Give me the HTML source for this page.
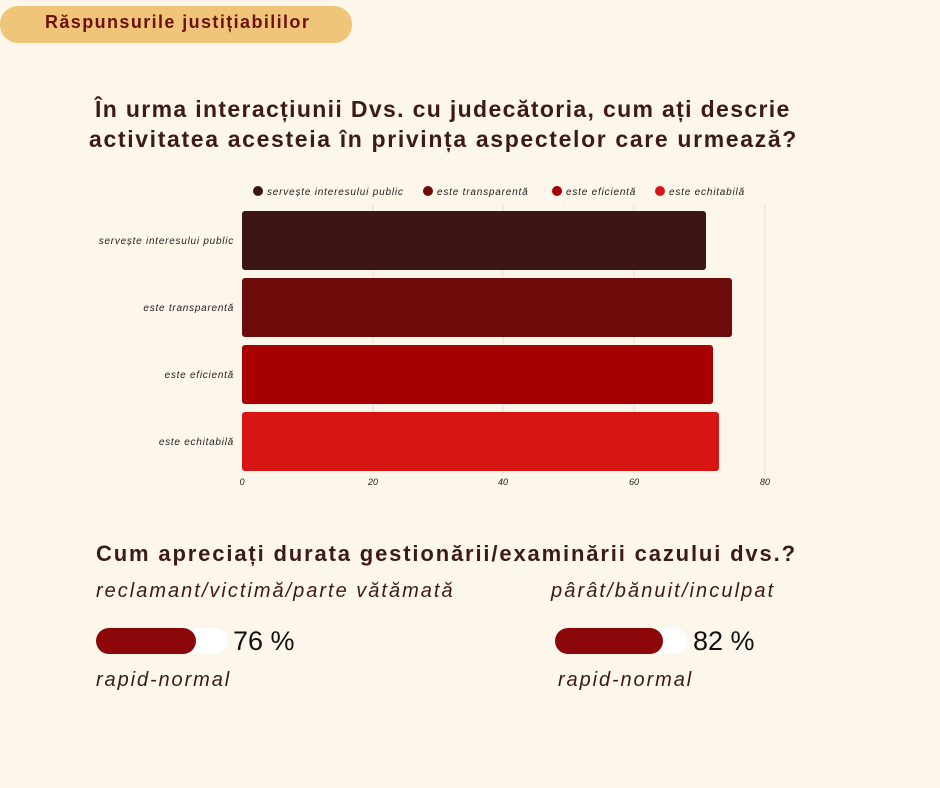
<!DOCTYPE html>
<html><head><meta charset="utf-8"><style>
body{margin:0;width:940px;height:788px;background:#fdf6ea;position:relative;overflow:hidden;font-family:"Liberation Sans",sans-serif;color:#3d1a1a}
.a{position:absolute;white-space:nowrap}
</style></head><body>
<div class="a" style="left:0;top:6px;width:352px;height:37px;background:#efc57a;border-radius:18px"></div>
<div class="a" style="left:45px;top:12px;font-size:18px;font-weight:bold;color:#6e1010;letter-spacing:1.4px">Răspunsurile justițiabililor</div>
<div class="a" style="left:95px;top:94px;font-size:23px;font-weight:bold;line-height:30px;letter-spacing:1.35px">În urma interacțiunii Dvs. cu judecătoria, cum ați descrie</div>
<div class="a" style="left:89px;top:124px;font-size:23px;font-weight:bold;line-height:30px;letter-spacing:1.65px">activitatea acesteia în privința aspectelor care urmează?</div>
<svg class="a" style="left:0;top:0" width="940" height="520">
<g font-family="Liberation Sans" font-style="italic" font-size="10" fill="#222" letter-spacing="0.8">
<circle cx="258" cy="191" r="5" fill="#3d1515"/><text x="267" y="195">servește interesului public</text>
<circle cx="428" cy="191" r="5" fill="#6e0c0c"/><text x="437" y="195">este transparentă</text>
<circle cx="557" cy="191" r="5" fill="#a80000"/><text x="566" y="195">este eficientă</text>
<circle cx="660" cy="191" r="5" fill="#d81515"/><text x="669" y="195">este echitabilă</text>
</g>
<g stroke="#e5ddd0" stroke-width="1"><line x1="373" y1="205" x2="373" y2="474"/><line x1="503" y1="205" x2="503" y2="474"/><line x1="634" y1="205" x2="634" y2="474"/><line x1="765" y1="205" x2="765" y2="474"/></g>
<rect x="242" y="211" width="464" height="59" rx="3" fill="#3d1515"/>
<rect x="242" y="278" width="490" height="59" rx="3" fill="#6e0c0c"/>
<rect x="242" y="345" width="471" height="59" rx="3" fill="#a80000"/>
<rect x="242" y="412" width="477" height="59" rx="3" fill="#d81515"/>
<g font-family="Liberation Sans" font-style="italic" font-size="10" fill="#222" text-anchor="end" letter-spacing="0.75">
<text x="234" y="244">servește interesului public</text>
<text x="234" y="311">este transparentă</text>
<text x="234" y="378">este eficientă</text>
<text x="234" y="445">este echitabilă</text>
</g>
<g font-family="Liberation Sans" font-style="italic" font-size="9" fill="#222" text-anchor="middle">
<text x="242" y="485">0</text><text x="373" y="485">20</text><text x="503" y="485">40</text><text x="634" y="485">60</text><text x="765" y="485">80</text>
</g>
</svg>
<div class="a" style="left:96px;top:541px;font-size:22px;font-weight:bold;letter-spacing:1.85px">Cum apreciați durata gestionării/examinării cazului dvs.?</div>
<div class="a" style="left:96px;top:580px;font-size:20px;font-style:italic;letter-spacing:2px">reclamant/victimă/parte vătămată</div>
<div class="a" style="left:551px;top:580px;font-size:20px;font-style:italic;letter-spacing:2.1px">pârât/bănuit/inculpat</div>
<div class="a" style="left:96px;top:628px;width:132px;height:26px;background:#fff;border-radius:13px"></div>
<div class="a" style="left:96px;top:628px;width:100px;height:26px;background:#8c0808;border-radius:13px"></div>
<div class="a" style="left:233px;top:626px;font-size:27px;color:#111">76 %</div>
<div class="a" style="left:555px;top:628px;width:132px;height:26px;background:#fff;border-radius:13px"></div>
<div class="a" style="left:555px;top:628px;width:108px;height:26px;background:#8c0808;border-radius:13px"></div>
<div class="a" style="left:693px;top:626px;font-size:27px;color:#111">82 %</div>
<div class="a" style="left:96px;top:669px;font-size:20px;font-style:italic;letter-spacing:1.9px">rapid-normal</div>
<div class="a" style="left:558px;top:669px;font-size:20px;font-style:italic;letter-spacing:1.9px">rapid-normal</div>
</body></html>
